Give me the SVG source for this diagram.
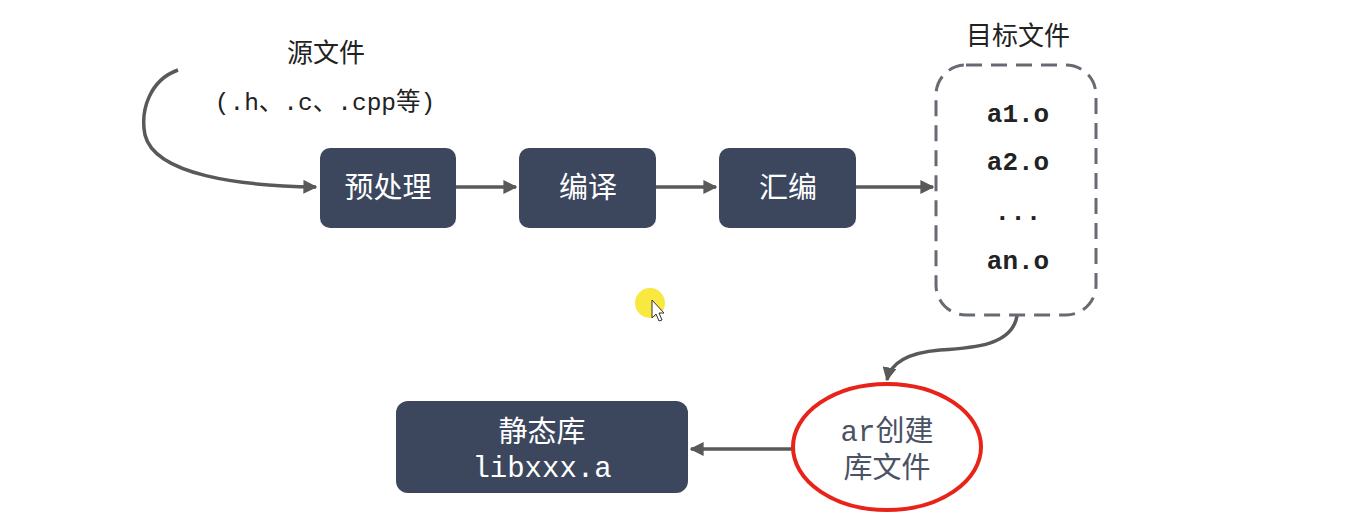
<svg xmlns="http://www.w3.org/2000/svg" width="1345" height="528" viewBox="0 0 1345 528">
<defs>
<style>
.box{fill:#3c475e;}
.wt{fill:#ffffff;font-family:"Noto Sans CJK SC","Noto Sans",sans-serif;font-size:29px;text-anchor:middle;}
.lbl{fill:#222;font-family:"Noto Sans CJK SC",sans-serif;font-size:26px;text-anchor:middle;}
.mono{font-family:"Liberation Mono","Noto Sans CJK SC",monospace;}
.conn{fill:none;stroke:#595959;stroke-width:3.5;}
.obj{fill:#222;font-family:"Liberation Mono",monospace;font-weight:bold;font-size:26px;text-anchor:middle;}
.ar{font-family:"Liberation Mono","Noto Sans CJK SC",monospace;font-size:29px;fill:#4a5263;text-anchor:middle;}
</style>
<marker id="ah" viewBox="0 0 10 10" refX="9" refY="5" markerWidth="4" markerHeight="4" orient="auto" markerUnits="strokeWidth">
<path d="M0,0 L10,5 L0,10 z" fill="#595959"/>
</marker>
</defs>
<rect width="1345" height="528" fill="#ffffff"/>

<g id="source">
<text class="lbl" x="326" y="62">源文件</text>
<text class="lbl mono" x="325" y="110" style="font-size:24.5px;fill:#222">(.h、.c、.cpp等)</text>
</g>

<g id="connectors">
<path class="conn" d="M178,70 C150,80 140,110 145,135 C155,175 240,186 316,187" marker-end="url(#ah)"/>
<line class="conn" x1="456" y1="187" x2="516" y2="187" marker-end="url(#ah)"/>
<line class="conn" x1="656" y1="187" x2="716" y2="187" marker-end="url(#ah)"/>
<line class="conn" x1="856" y1="187" x2="933" y2="187" marker-end="url(#ah)"/>
<path class="conn" d="M1017,316 C1012,345 975,348 940,350 C905,353 890,365 887,380" marker-end="url(#ah)"/>
<line class="conn" x1="792" y1="449" x2="691" y2="449" marker-end="url(#ah)"/>
</g>

<g id="preprocess">
<rect class="box" x="320" y="148" width="136" height="80" rx="10"/>
<text class="wt" x="388" y="198">预处理</text>
</g>
<g id="compile">
<rect class="box" x="519" y="148" width="137" height="80" rx="10"/>
<text class="wt" x="588" y="198">编译</text>
</g>
<g id="assemble">
<rect class="box" x="719" y="148" width="137" height="80" rx="10"/>
<text class="wt" x="788" y="198">汇编</text>
</g>

<g id="objects">
<text class="lbl" x="1018" y="45">目标文件</text>
<rect x="936" y="65" width="160" height="250" rx="30" fill="none" stroke="#666a72" stroke-width="3" stroke-dasharray="16,9"/>
<text class="obj" x="1018" y="122">a1.o</text>
<text class="obj" x="1018" y="170">a2.o</text>
<text class="obj" x="1018" y="220">...</text>
<text class="obj" x="1018" y="269">an.o</text>
</g>

<g id="ar">
<ellipse cx="887" cy="447" rx="94" ry="63" fill="#ffffff" stroke="#e8231a" stroke-width="4"/>
<text class="ar" x="887" y="441">ar创建</text>
<text class="ar" x="887" y="478">库文件</text>
</g>

<g id="staticlib">
<rect class="box" x="396" y="401" width="292" height="92" rx="12"/>
<text class="wt" x="542" y="442">静态库</text>
<text class="wt mono" x="542" y="477" style="font-size:29px">libxxx.a</text>
</g>

<g id="cursor">
<circle cx="650" cy="303" r="15" fill="#f7e62a" opacity="0.9"/>
<path d="M652,300 L652,318 L656,314 L659,321 L662,320 L659,313 L664,313 Z" fill="#ffffff" stroke="#333" stroke-width="1"/>
</g>
</svg>
